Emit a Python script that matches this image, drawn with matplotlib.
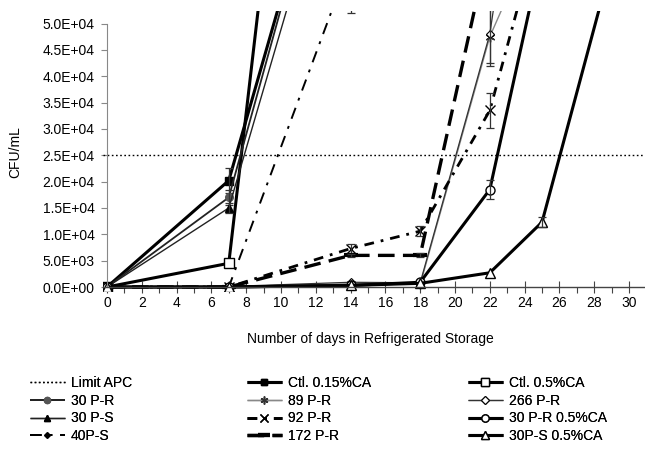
import numpy as np
import matplotlib
matplotlib.use("Agg")
import matplotlib.pyplot as plt
from matplotlib.ticker import FuncFormatter, MultipleLocator

plt.rcParams['font.family'] = ['Liberation Sans', 'DejaVu Sans']
plt.rcParams['font.size'] = 10

nan = np.nan
days = [0, 7, 14, 18, 22, 25, 29]
limit_apc = 25000

ctl_015 = [0, 20200, 100700, nan, nan, nan, nan]
ctl_015_err = [0, 2300, 0, 0, 0, 0, 0]
ctl_05 = [0, 4500, 204000, nan, nan, nan, nan]
ctl_05_err = [0, 0, 0, 0, 0, 0, 0]
p30r = [0, 17000, 100600, nan, nan, nan, nan]
p30r_err = [0, 1500, 0, 0, 0, 0, 0]
p30s = [0, 15000, 94000, nan, nan, nan, nan]
p30s_err = [0, 1000, 0, 0, 0, 0, 0]
p40s = [0, 0, 62000, nan, nan, nan, nan]
p40s_err = [0, 0, 10000, 0, 0, 0, 0]
p89r = [0, 100, 600, 500, 47500, 70000, nan]
p89r_err = [0, 0, 0, 0, 5500, 0, 0]
p266r = [0, 100, 900, 800, 48000, 115000, nan]
p266r_err = [0, 0, 0, 0, 5500, 0, 0]
p92r = [0, 0, 7300, 10600, 33500, 70000, nan]
p92r_err = [0, 0, 800, 1000, 3300, 0, 0]
p172r = [0, 0, 6000, 6000, 65700, nan, nan]
p172r_err = [0, 0, 300, 400, 0, 0, 0]
p30r_ca = [0, 0, 300, 900, 18500, 63500, nan]
p30r_ca_err = [0, 0, 0, 0, 1800, 0, 0]
p30s_ca = [0, 0, 300, 700, 2700, 12300, 61500]
p30s_ca_err = [0, 0, 0, 0, 0, 900, 0]

fig = plt.figure(figsize=(6.45, 4.5), dpi=100)
ax = fig.add_axes([0.1591, 0.354, 0.8404, 0.6207])

series = [
    ("Ctl. 0.15%CA", ctl_015, ctl_015_err, dict(color='black', lw=2.2, ls='-', marker='s', ms=5.5, mfc='black', mec='black')),
    ("Ctl. 0.5%CA", ctl_05, ctl_05_err, dict(color='black', lw=2.2, ls='-', marker='s', ms=6.5, mfc='white', mec='black', mew=1.0)),
    ("30 P-R", p30r, p30r_err, dict(color='#222222', lw=1.3, ls='-', marker='o', ms=5.5, mfc='#555555', mec='#555555')),
    ("30 P-S", p30s, p30s_err, dict(color='#222222', lw=1.0, ls='-', marker='^', ms=5.5, mfc='black', mec='black')),
    ("40P-S", p40s, p40s_err, dict(color='black', lw=1.4, ls=(0, (6, 4, 1.5, 4)), marker='D', ms=3.5, mfc='black', mec='black')),
    ("89 P-R", p89r, p89r_err, dict(color='#888888', lw=1.0, ls='-', marker=(6, 2, 0), ms=7, mfc='#333333', mec='#333333', mew=1.0)),
    ("266 P-R", p266r, p266r_err, dict(color='#333333', lw=0.9, ls='-', marker='D', ms=4.5, mfc='white', mec='black', mew=0.8)),
    ("92 P-R", p92r, p92r_err, dict(color='black', lw=2.0, ls=(0, (3.5, 2.5, 1.0, 2.5)), marker='x', ms=7, mec='black', mew=1.0)),
    ("172 P-R", p172r, p172r_err, dict(color='black', lw=2.4, ls=(0, (5, 2.5)), marker='_', ms=10, mec='black', mew=3)),
    ("30 P-R 0.5%CA", p30r_ca, p30r_ca_err, dict(color='black', lw=2.2, ls='-', marker='o', ms=6.5, mfc='white', mec='black', mew=1.0)),
    ("30P-S 0.5%CA", p30s_ca, p30s_ca_err, dict(color='black', lw=2.2, ls='-', marker='^', ms=6.5, mfc='white', mec='black', mew=1.0)),
]

handles = {}
lim_line, = ax.plot([-0.25, 30.9], [limit_apc, limit_apc], color='black', lw=1.0, ls=(0, (1.2, 1.8)))
handles["Limit APC"] = lim_line

for label, vals, errs, st in series:
    ln, = ax.plot(days, vals, solid_capstyle='butt', dash_capstyle='butt', **st)
    handles[label] = ln
    xd = [d for d, v, e in zip(days, vals, errs) if e > 0]
    yd = [v for d, v, e in zip(days, vals, errs) if e > 0]
    ed = [e for d, v, e in zip(days, vals, errs) if e > 0]
    if xd:
        ax.errorbar(xd, yd, yerr=ed, fmt='none', ecolor='#333333', elinewidth=0.9, capsize=3, capthick=0.9)

ax.set_xlim(-0.25, 30.9)
ax.set_ylim(-700, 52300)
ax.spines['top'].set_visible(False)
ax.spines['right'].set_visible(False)
ax.spines['left'].set_position(('data', 0))
ax.spines['left'].set_bounds(0, 50000)
ax.spines['left'].set_color('#888888')
ax.spines['bottom'].set_position(('data', 0))
ax.spines['bottom'].set_color('#444444')
ax.spines['bottom'].set_linewidth(1.0)

ax.xaxis.set_major_locator(MultipleLocator(2))
ax.xaxis.set_minor_locator(MultipleLocator(1))
ax.yaxis.set_major_locator(MultipleLocator(5000))
ax.yaxis.set_major_formatter(FuncFormatter(lambda v, p: f"{v:.1E}"))
ax.tick_params(axis='x', which='major', direction='inout', length=8, width=0.8, colors='#444444', labelcolor='black', pad=2.5, labelsize=10)
ax.tick_params(axis='x', which='minor', direction='out', length=4, width=0.8, colors='#444444')
ax.tick_params(axis='y', which='major', direction='out', length=4, width=0.8, colors='#888888', labelcolor='black', pad=5, labelsize=10)

fig.text(370/645, 1 - 339/450, "Number of days in Refrigerated Storage", ha='center', va='center', fontsize=10)
fig.text(15/645, 1 - 152/450, "CFU/mL", ha='center', va='center', rotation=90, fontsize=10)

cols = [["Limit APC", "30 P-R", "30 P-S", "40P-S"],
        ["Ctl. 0.15%CA", "89 P-R", "92 P-R", "172 P-R"],
        ["Ctl. 0.5%CA", "266 P-R", "30 P-R 0.5%CA", "30P-S 0.5%CA"]]
col_x = [30, 247, 468]
for cx, labs in zip(col_x, cols):
    leg = fig.legend([handles[l] for l in labs], labs, loc='upper left',
                     bbox_to_anchor=(cx / 645, 1 - 376 / 450), frameon=False,
                     borderpad=0, borderaxespad=0, handlelength=2.5, handletextpad=0.45,
                     labelspacing=0.27, fontsize=10, numpoints=1, markerscale=0.8)
    fig.add_artist(leg)

fig.savefig("out.png", dpi=100)
